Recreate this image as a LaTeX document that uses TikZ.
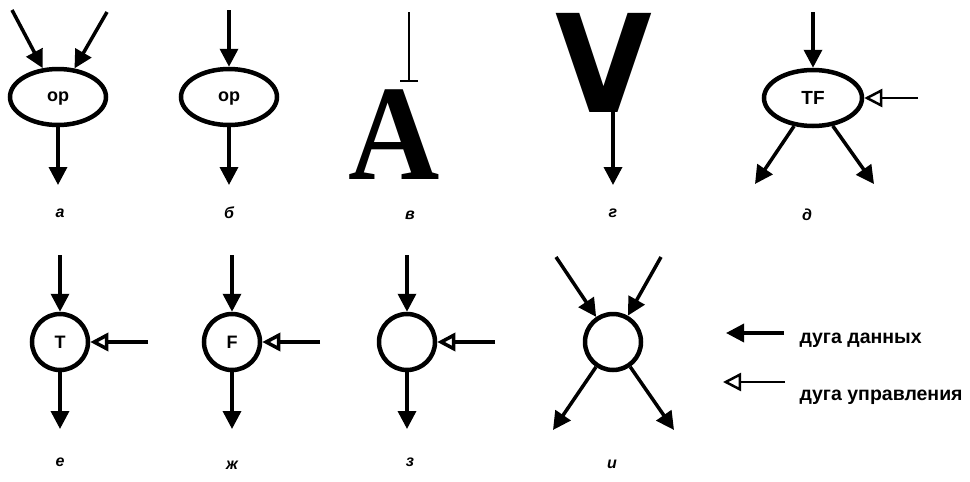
\documentclass[tikz,border=0pt]{standalone}
\usepackage{fontspec}
\setmainfont{Liberation Sans}
\newfontfamily\bigserif{Liberation Serif}
\newfontfamily\bigsans{DejaVu Sans}
\usetikzlibrary{arrows.meta,shapes.geometric}

\tikzset{
  data/.style={line width=3.5pt,-{Triangle[length=18pt,width=18pt]}},
  ctrl/.style={line width=3.5pt,-{Triangle[open,length=18pt,width=18pt]}},
  opnode/.style={ellipse,draw,line width=4.5pt,minimum width=96pt,minimum height=56pt,
    text depth=0pt,font=\bfseries\fontsize{18}{18}\selectfont},
  gate/.style={circle,draw,line width=4.5pt,minimum size=56pt,inner sep=0pt,
    font=\bfseries\fontsize{18}{18}\selectfont},
  caption/.style={font=\bfseries\itshape\fontsize{16}{16}\selectfont},
  legend/.style={anchor=west,font=\bfseries\fontsize{19.5}{19.5}\selectfont}
}

\begin{document}
\begin{tikzpicture}[x=1pt,y=-1pt]
\useasboundingbox (0,0) rectangle (970,482);
% a
\node[opnode] (opa) at (58,97) {op};
\coordinate (ina1) at (12,10);
\coordinate (ina2) at (107,12);
\coordinate (outa) at (58,185);
\draw[data] (ina1) -- (opa);
\draw[data] (ina2) -- (opa);
\draw[data] (opa) -- (outa);
% b
\node[opnode] (opb) at (229,97) {op};
\coordinate (inb) at (229,10);
\coordinate (outb) at (229,185);
\draw[data] (inb) -- (opb);
\draw[data] (opb) -- (outb);
% v
\node[inner sep=0pt,anchor=south,xscale=0.93,font=\bigserif\bfseries\fontsize{136}{136}\selectfont] (bigA) at (394,180) {A};
\coordinate (inv) at (409,12);
\coordinate (endv) at (409,82);
\draw[line width=2pt,-{Bar[width=18pt]}] (inv) -- (endv);
% g
\node[inner sep=0pt,anchor=south,xscale=0.92,font=\bigsans\bfseries\fontsize{136}{136}\selectfont] (bigV) at (604,113) {V};
\coordinate (ing) at (613,110);
\coordinate (outg) at (613,185);
\draw[data] (ing) -- (outg);
% d
\node[opnode,minimum width=98pt,font=\bfseries\fontsize{19}{19}\selectfont] (opd) at (813,98) {TF};
\coordinate (ind) at (813,12);
\coordinate (ctd) at (918,98);
\coordinate (outd1) at (755,184);
\coordinate (outd2) at (874,184);
\draw[data] (ind) -- (opd);
\draw[ctrl,line width=2.5pt] (ctd) -- (opd);
\draw[data] (opd) -- (outd1);
\draw[data] (opd) -- (outd2);
% e, zh, z
\foreach \x/\txt/\n in {60/T/e,232/F/zh,407/{}/z} {
  \node[gate] (g\n) at (\x,342) {\txt};
  \coordinate (in\n) at (\x,255);
  \coordinate (out\n) at (\x,429);
  \coordinate (ct\n) at (\x+88,342);
  \draw[data] (in\n) -- (g\n);
  \draw[data] (g\n) -- (out\n);
  \draw[ctrl] (ct\n) -- (g\n);
}
% i
\node[gate] (gi) at (613,342) {};
\coordinate (ini1) at (556,257);
\coordinate (ini2) at (661,257);
\coordinate (outi1) at (553,430);
\coordinate (outi2) at (674,430);
\draw[data] (ini1) -- (gi);
\draw[data] (ini2) -- (gi);
\draw[data] (gi) -- (outi1);
\draw[data] (gi) -- (outi2);
% captions
\foreach \x/\y/\lab/\n in {60/213/а/a,229/213/б/b,410/215/в/v,613/213/г/g,807/215/д/d,
  60/462/е/e,232/465/ж/zh,410/462/з/z,612/464/и/i} {
  \node[caption] (cap\n) at (\x,\y) {\lab};
}
% legend
\coordinate (ldata1) at (784,333);
\coordinate (ldata2) at (726,333);
\coordinate (lctrl1) at (785,382);
\coordinate (lctrl2) at (723,382);
\draw[data] (ldata1) -- (ldata2);
\draw[ctrl,line width=2.5pt] (lctrl1) -- (lctrl2);
\node[legend] (ltxt1) at (796,340) {дуга данных};
\node[legend] (ltxt2) at (796,397) {дуга управления};
\end{tikzpicture}
\end{document}
